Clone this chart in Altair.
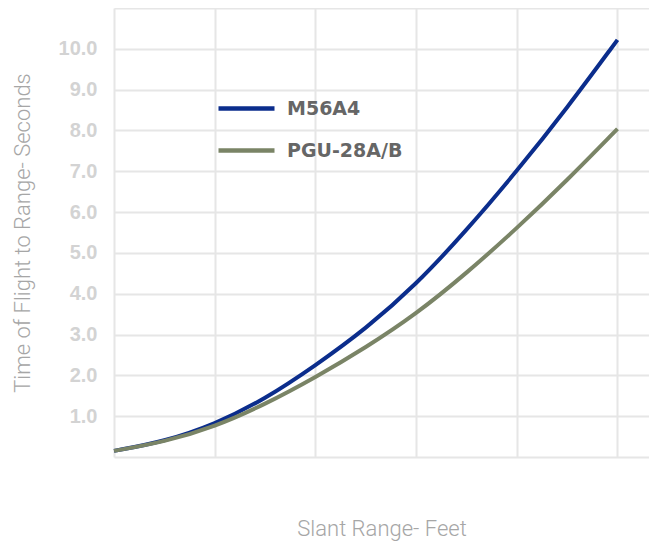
import altair as alt
import pandas as pd

ranges = [0, 500, 1000, 1500, 2000, 2500, 3000, 3500, 4000, 4500, 5000]
m56a4 = [0.15, 0.38, 0.80, 1.42, 2.24, 3.14, 4.22, 5.55, 7.00, 8.55, 10.22]
pgu28 = [0.15, 0.37, 0.74, 1.29, 1.95, 2.68, 3.50, 4.50, 5.60, 6.78, 8.04]
series = ["M56A4", "PGU-28A/B"]
colors = ["#0b2d8c", "#7a8466"]

rows = []
for r, a, b in zip(ranges, m56a4, pgu28):
    rows.append({"range": r, "tof": a, "series": series[0]})
    rows.append({"range": r, "tof": b, "series": series[1]})
df = pd.DataFrame(rows)

chart = alt.Chart(df).mark_line(strokeWidth=4, interpolate="basis").encode(
    x=alt.X("range:Q", title="Slant Range- Feet",
            scale=alt.Scale(domain=[0, 5313], nice=False, zero=True),
            axis=alt.Axis(values=[0, 1000, 2000, 3000, 4000, 5000], labels=False, ticks=False,
                          domain=False, titlePadding=61)),
    y=alt.Y("tof:Q", title="Time of Flight to Range- Seconds",
            scale=alt.Scale(domain=[0, 11], nice=False),
            axis=alt.Axis(values=list(range(0, 12)), ticks=False, domain=False,
                          labelExpr="datum.value == 0 || datum.value == 11 ? '' : format(datum.value, '.1f')",
                          labelPadding=17, titlePadding=24)),
    color=alt.Color("series:N", scale=alt.Scale(domain=series, range=colors),
                    legend=alt.Legend(title=None, orient="none", legendX=102, legendY=70,
                                      symbolType="stroke", symbolSize=3136, symbolStrokeWidth=4.5,
                                      labelFontSize=19, labelFontWeight="bold", labelColor="#666666",
                                      labelFont="DejaVu Sans", rowPadding=1, labelOffset=10)),
).properties(
    width=535, height=449,
    autosize=alt.AutoSizeParams(type="none"),
    padding={"left": 106, "top": 0, "right": 0, "bottom": 85},
).configure_view(stroke=None).configure_axis(
    gridColor="#e6e6e6", gridWidth=2,
    labelFont="Liberation Sans", labelFontSize=20, labelFontWeight="bold", labelColor="#d3d3d3",
    titleFont="Roboto", titleFontSize=22, titleFontWeight=300, titleColor="#a6a6a6",
)

chart.save("out.html", embed_options={"renderer": "svg", "actions": False})
